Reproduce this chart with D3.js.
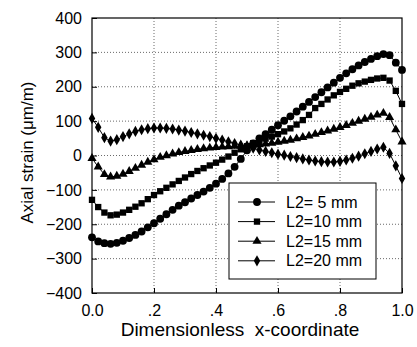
<!DOCTYPE html>
<html>
<head>
<meta charset="utf-8">
<script src="https://cdn.jsdelivr.net/npm/d3@7"></script>
<style>
  body { margin: 0; background: #fff; }
  text { font-family: "Liberation Sans", Arial, sans-serif; fill: #000; }
  .grid line { stroke: #444; stroke-dasharray: 1,2; stroke-width: 0.8; }
</style>
</head>
<body>
<div id="chart"></div>
<script>
// x positions (dimensionless), 0.00 .. 1.00 step 0.02
var xCoord = d3.range(0, 51).map(i => +(i * 0.02).toFixed(2));

// axial strain, um/m
var l2_5 = [-238, -250, -255, -257, -254, -248, -240, -231, -221, -209,
            -197, -184, -171, -158, -146, -136, -125, -115, -105, -94,
            -82, -68, -52, -33, -10, 15, 35, 50, 62, 75,
            88, 101, 114, 128, 142, 156, 170, 184, 198, 212,
            226, 239, 251, 262, 272, 281, 289, 295, 292, 270, 249];
var l2_10 = [-129, -150, -166, -174, -172, -166, -158, -149, -139, -127,
             -115, -104, -94, -84, -74, -64, -54, -45, -37, -29,
             -21, -12, -3, 8, 18, 27, 36, 43, 49, 55,
             62, 70, 79, 90, 103, 118, 138, 150, 163, 175,
             185, 194, 203, 210, 215, 220, 224, 226, 218, 188, 150];
var l2_15 = [-8, -33, -55, -62, -60, -54, -46, -37, -28, -19,
             -12, -5, 0, 5, 9, 12, 15, 18, 20, 22,
             24, 25, 26, 27, 28, 29, 30, 32, 34, 36,
             39, 42, 45, 49, 53, 57, 62, 67, 72, 77,
             82, 88, 94, 100, 106, 112, 118, 123, 111, 75, 40];
var l2_20 = [108, 82, 52, 42, 46, 55, 63, 70, 75, 78,
             80, 80, 79, 77, 74, 71, 67, 63, 59, 55,
             50, 45, 40, 35, 30, 26, 21, 16, 12, 8,
             4, 1, -3, -6, -10, -13, -16, -18, -19, -19,
             -17, -13, -8, -2, 5, 12, 19, 24, 6, -30, -67];

var seriesNames = ["L2= 5 mm", "L2=10 mm", "L2=15 mm", "L2=20 mm"];
var seriesVals = [l2_5, l2_10, l2_15, l2_20];
var seriesSym = [d3.symbolCircle, d3.symbolSquare, d3.symbolTriangle, d3.symbolDiamond];
var symSize = [48, 40, 36, 36];

var xTicks = [0, 0.2, 0.4, 0.6, 0.8, 1.0];
var xTickLabels = ["0.0", ".2", ".4", ".6", ".8", "1.0"];
var yTicks = [-400, -300, -200, -100, 0, 100, 200, 300, 400];

var svgWidth = 417, svgHeight = 347;
var margin = { top: 18, right: 15, bottom: 54, left: 92 };
var width = svgWidth - margin.left - margin.right;
var height = svgHeight - margin.top - margin.bottom;

var svg = d3.select("#chart").append("svg")
    .attr("width", svgWidth)
    .attr("height", svgHeight);

var g = svg.append("g")
    .attr("transform", `translate(${margin.left}, ${margin.top})`);

var x = d3.scaleLinear().domain([0, 1]).range([0, width]);
var y = d3.scaleLinear().domain([-400, 400]).range([height, 0]);

// dotted grid
var grid = g.append("g").attr("class", "grid");
grid.selectAll(".gx").data(xTicks.slice(1, -1)).enter().append("line")
    .attr("x1", d => x(d)).attr("x2", d => x(d))
    .attr("y1", 0).attr("y2", height);
grid.selectAll(".gy").data(yTicks.slice(1, -1)).enter().append("line")
    .attr("x1", 0).attr("x2", width)
    .attr("y1", d => y(d)).attr("y2", d => y(d));

// axes, ticks pointing inward
var bottomAxis = d3.axisBottom(x).tickValues(xTicks)
    .tickFormat((d, i) => xTickLabels[i]).tickSizeInner(-5).tickSizeOuter(0).tickPadding(12);
var leftAxis = d3.axisLeft(y).tickValues(yTicks)
    .tickSizeInner(-5).tickSizeOuter(0).tickPadding(10);

var xa = g.append("g").attr("transform", `translate(0, ${height})`).call(bottomAxis);
var ya = g.append("g").call(leftAxis);
[xa, ya].forEach(function(a) {
    a.select(".domain").remove();
    a.selectAll("line").attr("stroke", "#000");
    a.selectAll("text").attr("font-size", "16px")
        .attr("font-family", "Liberation Sans, Arial, sans-serif");
});

g.append("rect")
    .attr("width", width).attr("height", height)
    .attr("fill", "none").attr("stroke", "#000").attr("stroke-width", 1.2);

// curves
var line = d3.line().x((d, i) => x(xCoord[i])).y(d => y(d));

seriesVals.forEach(function(vals, k) {
    g.append("path").datum(vals)
        .attr("d", line)
        .attr("fill", "none")
        .attr("stroke", "#000")
        .attr("stroke-width", 1);
    g.append("g").selectAll("path")
        .data(vals)
        .enter()
        .append("path")
        .attr("transform", (d, i) => `translate(${x(xCoord[i])}, ${y(d)})`)
        .attr("d", d3.symbol().type(seriesSym[k]).size(symSize[k]))
        .attr("fill", "#000");
});

// legend
var legend = g.append("g").attr("transform", `translate(${229 - margin.left}, ${183 - margin.top})`);
legend.append("rect")
    .attr("width", 147).attr("height", 96)
    .attr("fill", "#fff").attr("stroke", "#000").attr("stroke-width", 1);
seriesNames.forEach(function(name, k) {
    var ly = 19 + k * 19.6;
    legend.append("line")
        .attr("x1", 9).attr("x2", 46).attr("y1", ly).attr("y2", ly)
        .attr("stroke", "#000").attr("stroke-width", 1);
    legend.append("path")
        .attr("transform", `translate(28, ${ly})`)
        .attr("d", d3.symbol().type(seriesSym[k]).size(symSize[k]))
        .attr("fill", "#000");
    legend.append("text")
        .attr("x", 57).attr("y", ly + 5.5)
        .attr("font-size", "16px")
        .text(name);
});

// axis titles
svg.append("text")
    .attr("transform", `translate(33, ${margin.top + height / 2 - 3}) rotate(-90)`)
    .attr("text-anchor", "middle")
    .attr("font-size", "17px")
    .text("Axial strain (\u03bcm/m)");

svg.append("text")
    .attr("x", margin.left + width / 2 - 7)
    .attr("y", 336)
    .attr("text-anchor", "middle")
    .attr("font-size", "19px")
    .style("white-space", "pre")
    .text("Dimensionless  x-coordinate");
</script>
</body>
</html>
